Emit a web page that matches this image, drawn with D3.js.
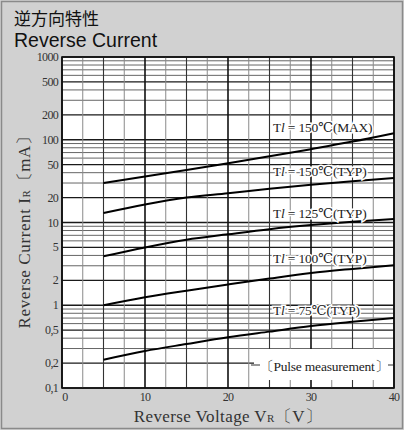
<!DOCTYPE html>
<meta charset="utf-8">
<style>
body { margin: 0; background: #d3d3d3; }
svg { display: block; }
.serif { font-family: "Liberation Serif", "DejaVu Serif", serif; }
</style>
<body>
<svg width="404" height="430"></svg>
<script src="https://cdn.jsdelivr.net/npm/d3@7"></script>
<script>

// voltage points (V) shared by every curve
var volts = [5, 10, 15, 20, 25, 30, 35, 40];

// reverse current (mA)
var i150max = [30, 36, 43, 52, 63, 77, 95, 120];
var i150typ = [13, 16.5, 20, 22.5, 25.5, 28.5, 31.5, 34.5];
var i125typ = [3.9, 5.0, 6.2, 7.2, 8.3, 9.3, 10.2, 11];
var i100typ = [1.0, 1.25, 1.5, 1.78, 2.1, 2.45, 2.75, 3.05];
var i75typ  = [0.22, 0.28, 0.34, 0.41, 0.48, 0.56, 0.63, 0.70];

var seriesNames = ["150℃(MAX)", "150℃(TYP)", "125℃(TYP)", "100℃(TYP)", "75℃(TYP)"];

var yTicks = [1000, 500, 200, 100, 50, 20, 10, 5, 2, 1, 0.5, 0.2, 0.1];
var xTicks = [0, 10, 20, 30, 40];

var svg = d3.select("svg"),
    W = +svg.attr("width"),
    H = +svg.attr("height");

var m = {left: 62, right: 394, top: 57, bottom: 388};

var x = d3.scaleLinear().domain([0, 40]).range([m.left, m.right]);
var y = d3.scaleLog().domain([0.1, 1000]).range([m.bottom, m.top]);

// frame
svg.append("rect").attr("x", 1.5).attr("y", 1.5).attr("width", W - 3).attr("height", H - 3)
  .attr("fill", "#d1d1d1").attr("stroke", "#8a8a8a").attr("stroke-width", 1.5);

// titles
svg.append("text").attr("x", 14).attr("y", 25)
  .attr("font-family", "'Noto Sans CJK JP', sans-serif").attr("font-size", 17).attr("fill", "#111")
  .text("逆方向特性");
svg.append("text").attr("x", 14).attr("y", 47)
  .attr("font-family", "'Liberation Sans', Arial, sans-serif").attr("font-size", 19.5).attr("fill", "#111")
  .text("Reverse Current");

// plot area
svg.append("rect").attr("x", m.left).attr("y", m.top)
  .attr("width", m.right - m.left).attr("height", m.bottom - m.top).attr("fill", "#fff");

var grid = svg.append("g");

function mant(d) {
  return Math.round(d / Math.pow(10, Math.floor(Math.log10(d) + 1e-9)));
}

// horizontal grid: every 1..9 per decade
var hv = [];
[0.1, 1, 10, 100].forEach(function(d) {
  d3.range(1, 10).forEach(function(k) { hv.push(+(k * d).toPrecision(3)); });
});
hv.push(1000);
grid.selectAll(".h").data(hv).enter().append("line")
  .attr("x1", m.left).attr("x2", m.right)
  .attr("y1", d => y(d)).attr("y2", d => y(d))
  .attr("stroke", d => [1, 2, 5].includes(mant(d)) ? "#1a1a1a" : "#555")
  .attr("stroke-width", d => [1, 2, 5].includes(mant(d)) ? 1.4 : 0.9);

// vertical grid every 2.5 V
var vv = d3.range(0, 40.01, 2.5);
grid.selectAll(".v").data(vv).enter().append("line")
  .attr("y1", m.top).attr("y2", m.bottom)
  .attr("x1", d => x(d)).attr("x2", d => x(d))
  .attr("stroke", d => d % 10 == 0 ? "#111" : (d % 5 == 0 ? "#333" : "#8a8a8a"))
  .attr("stroke-width", d => d % 10 == 0 ? 1.6 : (d % 5 == 0 ? 1.1 : 1));

// pulse measurement box (white patch over grid)
svg.append("rect").attr("x", 254).attr("y", 349).attr("width", 139).attr("height", 31).attr("fill", "#fff");
svg.append("line").attr("x1", 251).attr("x2", 260).attr("y1", 365).attr("y2", 365).attr("stroke", "#333");
svg.append("line").attr("x1", 388).attr("x2", m.right).attr("y1", 365).attr("y2", 365).attr("stroke", "#333");
svg.append("text").attr("class", "serif").attr("x", 324).attr("y", 371)
  .attr("text-anchor", "middle").attr("font-size", 13.5).attr("fill", "#222")
  .attr("letter-spacing", -0.2)
  .text("〔Pulse measurement〕");

// border of plot
svg.append("rect").attr("x", m.left).attr("y", m.top)
  .attr("width", m.right - m.left).attr("height", m.bottom - m.top)
  .attr("fill", "none").attr("stroke", "#111").attr("stroke-width", 1.6);

// curves
var allSeries = [i150max, i150typ, i125typ, i100typ, i75typ];
var line = d3.line().x((d, i) => x(volts[i])).y(d => y(d)).curve(d3.curveMonotoneX);
svg.selectAll(".curve").data(allSeries).enter().append("path")
  .attr("d", line).attr("fill", "none").attr("stroke", "#000").attr("stroke-width", 2);

// series labels
var labY = [132, 176, 218, 263, 315];
var lab = svg.selectAll(".lab").data(seriesNames).enter().append("text")
  .attr("class", "serif")
  .attr("x", 273).attr("y", (d, i) => labY[i])
  .attr("font-size", 13.5).attr("fill", "#222")
  .attr("stroke", "#fff").attr("stroke-width", 3).attr("paint-order", "stroke")
  .attr("letter-spacing", -0.2);
lab.append("tspan").text("T");
lab.append("tspan").attr("font-style", "italic").text("l");
lab.append("tspan").text((d, i) => i == 4 ? " =   " : " = ");
lab.append("tspan").text(d => d);

// y tick labels
svg.selectAll(".yt").data(yTicks).enter().append("text")
  .attr("class", "serif")
  .attr("x", m.left - 4).attr("y", d => y(d) + 4)
  .attr("text-anchor", "end").attr("font-size", 12).attr("fill", "#333")
  .attr("letter-spacing", -0.7)
  .text(d => d < 1 ? String(d).replace(".", ",") : d);

// x tick labels
svg.selectAll(".xt").data(xTicks).enter().append("text")
  .attr("class", "serif")
  .attr("x", d => d == 0 ? x(d) + 3 : x(d)).attr("y", m.bottom + 13)
  .attr("text-anchor", "middle").attr("font-size", 12).attr("fill", "#333")
  .attr("letter-spacing", -0.7)
  .text(d => d);

// axis titles
var xt = svg.append("text").attr("class", "serif")
  .attr("x", 228).attr("y", 422).attr("text-anchor", "middle")
  .attr("font-size", 17).attr("fill", "#333").attr("letter-spacing", 0.4);
xt.append("tspan").text("Reverse Voltage  V");
xt.append("tspan").attr("font-size", 11).text("R");
xt.append("tspan").text("〔V〕");

var yt = svg.append("text").attr("class", "serif")
  .attr("transform", "translate(30,228) rotate(-90)").attr("text-anchor", "middle")
  .attr("font-size", 17).attr("fill", "#333").attr("letter-spacing", 0.6);
yt.append("tspan").text("Reverse Current  I");
yt.append("tspan").attr("font-size", 11).text("R");
yt.append("tspan").text("〔mA〕");

</script>
</body>
